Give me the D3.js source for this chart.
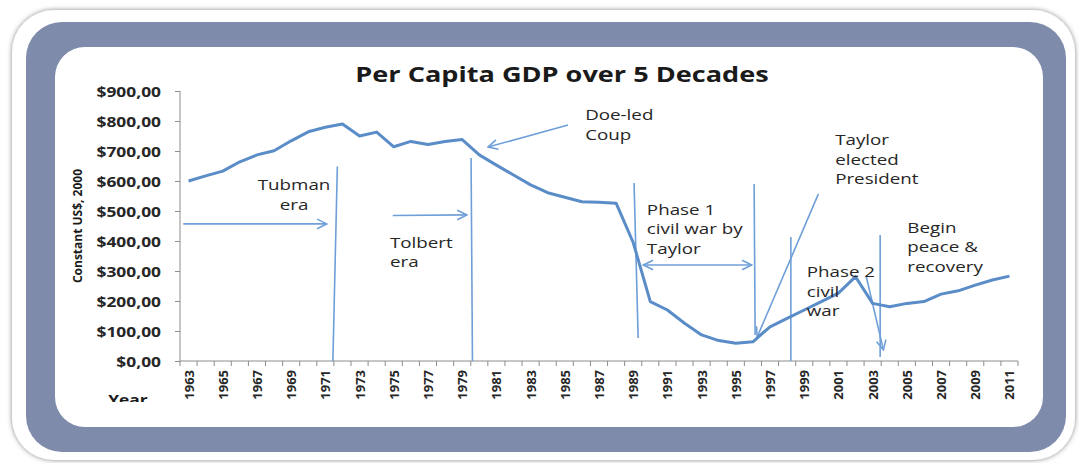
<!DOCTYPE html>
<html>
<head>
<meta charset="utf-8">
<script src="https://cdn.jsdelivr.net/npm/d3@7"></script>
<style>
  body { margin: 0; background: #fff; }
  svg text { font-family: "Open Sans", "Noto Sans", sans-serif; }
</style>
</head>
<body>
<div id="chart"></div>
<script>
// Per capita GDP, constant US$ 2000
const years = [1963, 1964, 1965, 1966, 1967, 1968, 1969, 1970, 1971, 1972,
	1973, 1974, 1975, 1976, 1977, 1978, 1979, 1980, 1981, 1982,
	1983, 1984, 1985, 1986, 1987, 1988, 1989, 1990, 1991, 1992,
	1993, 1994, 1995, 1996, 1997, 1998, 1999, 2000, 2001, 2002,
	2003, 2004, 2005, 2006, 2007, 2008, 2009, 2010, 2011];
const gdp = [600, 617, 633, 664, 687, 701, 734, 764, 779, 790,
	750, 763, 714, 732, 722, 732, 738, 687, 653, 620,
	587, 561, 546, 531, 529, 526, 395, 198, 170, 126,
	87, 68, 59, 64, 114, 142, 170, 198, 226, 281,
	192, 181, 192, 198, 223, 234, 253, 270, 283];
const yTicks = [0, 100, 200, 300, 400, 500, 600, 700, 800, 900];
const yTickLabels = ["$0,00", "$100,00", "$200,00", "$300,00", "$400,00",
	"$500,00", "$600,00", "$700,00", "$800,00", "$900,00"];
const xTickLabels = years.filter((d, i) => i % 2 === 0);

// era separators drawn by hand on the original (year / value ends)
const eraLines = [
	{x1: 1971.7, y1: 648, x2: 1971.44, y2: 0},
	{x1: 1979.52, y1: 677, x2: 1979.6, y2: 0},
	{x1: 1989.05, y1: 593, x2: 1989.29, y2: 77},
	{x1: 1996.07, y1: 590, x2: 1996.13, y2: 87},
	{x1: 1998.22, y1: 413, x2: 1998.22, y2: 0},
	{x1: 2003.44, y1: 420, x2: 2003.44, y2: 13}
];
const arrows = [
	{x1: 1962.69, y1: 457, x2: 1971.08, y2: 457, both: false},
	{x1: 1974.94, y1: 485, x2: 1979.27, y2: 487, both: false},
	{x1: 1985.19, y1: 787, x2: 1980.51, y2: 713, both: false},
	{x1: 1989.6, y1: 320, x2: 1995.93, y2: 320, both: true},
	{x1: 1999.83, y1: 557, x2: 1996.25, y2: 80, both: false},
	{x1: 2002.63, y1: 281, x2: 2003.63, y2: 37, both: false}
];
const notes = [
	{x: 1969.17, y: 570, anchor: "middle", lines: ["Tubman", "era"]},
	{x: 1974.78, y: 377, anchor: "start", lines: ["Tolbert", "era"]},
	{x: 1986.19, y: 803, anchor: "start", lines: ["Doe-led", "Coup"]},
	{x: 1989.8, y: 487, anchor: "start", lines: ["Phase 1", "civil war by", "Taylor"]},
	{x: 2000.81, y: 720, anchor: "start", lines: ["Taylor", "elected", "President"]},
	{x: 1999.15, y: 280, anchor: "start", lines: ["Phase 2", "civil", "war"]},
	{x: 2005.03, y: 427, anchor: "start", lines: ["Begin", "peace &", "recovery"]}
];

const width = 1079, height = 463;
const STRETCH = 1.24; // the source picture is squashed wide

function stretchText(sel, k) {
	sel.each(function() {
		const w = this.getComputedTextLength();
		d3.select(this).attr('textLength', w * k).attr('lengthAdjust', 'spacingAndGlyphs');
	});
}

const svg = d3.select('#chart').append('svg')
	.attr('width', width)
	.attr('height', height);

const defs = svg.append('defs');
defs.append('filter').attr('id', 'shadow')
	.attr('x', '-5%').attr('y', '-5%').attr('width', '110%').attr('height', '110%')
	.append('feDropShadow')
		.attr('dx', 0).attr('dy', 0)
		.attr('stdDeviation', 2.5)
		.attr('flood-color', '#666')
		.attr('flood-opacity', 0.8);
defs.append('clipPath').attr('id', 'chartClip')
	.append('rect')
		.attr('x', 55).attr('y', 47)
		.attr('width', 988).attr('height', 355);
defs.append('marker')
	.attr('id', 'arrowHead')
	.attr('viewBox', '0 0 10 10')
	.attr('refX', 9).attr('refY', 5)
	.attr('markerWidth', 7.5).attr('markerHeight', 7.5)
	.attr('orient', 'auto-start-reverse')
	.append('path')
		.attr('d', 'M1,1 L9,5 L1,9')
		.style('fill', 'none')
		.style('stroke', '#6f9fd8')
		.style('stroke-width', 1.3);

// frame: white mat, blue-grey band, white card
svg.append('rect')
	.attr('x', 12).attr('y', 10).attr('width', 1063).attr('height', 450)
	.attr('rx', 42)
	.style('fill', '#fff')
	.attr('filter', 'url(#shadow)');
svg.append('rect')
	.attr('x', 26).attr('y', 22).attr('width', 1040).attr('height', 430)
	.attr('rx', 36)
	.style('fill', '#7f8bab');
svg.append('rect')
	.attr('x', 55).attr('y', 47).attr('width', 988).attr('height', 380)
	.attr('rx', 30)
	.style('fill', '#fff');

const chart = svg.append('g').attr('clip-path', 'url(#chartClip)');

// scales
const x = d3.scaleBand()
	.domain(years)
	.range([180, 1018]);
const bw = x.bandwidth();
const xYear = d3.scaleLinear()
	.domain([years[0], years[years.length - 1]])
	.range([x(years[0]) + bw / 2, x(years[years.length - 1]) + bw / 2]);
const y = d3.scaleLinear()
	.domain([0, 900])
	.range([361, 91]);

// title
chart.append('text')
	.attr('x', 562).attr('y', 82)
	.attr('text-anchor', 'middle')
	.style('font-size', '21px')
	.style('font-weight', 'bold')
	.style('fill', '#1a1a1a')
	.text('Per Capita GDP over 5 Decades')
	.call(stretchText, 1.29);

// y axis
const yAxis = chart.append('g')
	.attr('transform', `translate(${x.range()[0]},0)`)
	.call(d3.axisLeft(y)
		.tickValues(yTicks)
		.tickSize(5)
		.tickPadding(14)
		.tickFormat((d, i) => yTickLabels[i]));
yAxis.select('.domain').attr('stroke', '#8c8c8c').attr('d', `M0,${y(900)}V${y(0)}`);
yAxis.selectAll('.tick line').attr('stroke', '#8c8c8c');
yAxis.selectAll('.tick text')
	.attr('dy', '0.36em')
	.style('font-family', '"Open Sans", sans-serif')
	.style('font-size', '14px')
	.style('font-weight', 'bold')
	.style('fill', '#262626')
	.call(stretchText, STRETCH);

chart.append('text')
	.attr('transform', `translate(82,226) rotate(-90)`)
	.attr('text-anchor', 'middle')
	.style('font-size', '12px')
	.style('font-weight', 'bold')
	.style('fill', '#1a1a1a')
	.text('Constant US$, 2000');

// x axis
const xAxisG = chart.append('g')
	.attr('transform', `translate(0,${y(0)})`);
xAxisG.append('line')
	.attr('x1', x.range()[0]).attr('x2', x.range()[1])
	.attr('stroke', '#8c8c8c');
xAxisG.selectAll('line.tick')
	.data(years.concat(['end']))
	.enter()
	.append('line')
		.classed('tick', true)
		.attr('x1', (d, i) => x.range()[0] + i * bw)
		.attr('x2', (d, i) => x.range()[0] + i * bw)
		.attr('y1', 0).attr('y2', 5)
		.attr('stroke', '#8c8c8c');
xAxisG.selectAll('text')
	.data(xTickLabels)
	.enter()
	.append('text')
		.attr('transform', d => `translate(${x(d) + bw / 2 + 5},9) rotate(-90)`)
		.attr('text-anchor', 'end')
		.style('font-size', '13px')
		.style('font-weight', 'bold')
		.style('fill', '#262626')
		.text(d => d);

// axis title, cut off by the chart's bottom edge like in the source
chart.append('text')
	.attr('x', 128).attr('y', 405)
	.attr('text-anchor', 'middle')
	.style('font-size', '14px')
	.style('font-weight', 'bold')
	.style('fill', '#1a1a1a')
	.text('Year')
	.call(stretchText, STRETCH);

// hand-drawn era lines and arrows
chart.selectAll('line.era')
	.data(eraLines)
	.enter()
	.append('line')
		.classed('era', true)
		.attr('x1', d => xYear(d.x1)).attr('y1', d => y(d.y1))
		.attr('x2', d => xYear(d.x2)).attr('y2', d => y(d.y2))
		.style('stroke', '#6f9fd8')
		.style('stroke-width', 1.6);

chart.selectAll('line.arrow')
	.data(arrows)
	.enter()
	.append('line')
		.classed('arrow', true)
		.attr('x1', d => xYear(d.x1)).attr('y1', d => y(d.y1))
		.attr('x2', d => xYear(d.x2)).attr('y2', d => y(d.y2))
		.style('stroke', '#6f9fd8')
		.style('stroke-width', 1.6)
		.attr('marker-end', 'url(#arrowHead)')
		.attr('marker-start', d => d.both ? 'url(#arrowHead)' : null);

// the GDP line
const line = d3.line()
	.x((d, i) => x(years[i]) + bw / 2)
	.y(d => y(d));
chart.append('path')
	.datum(gdp)
	.attr('d', line)
	.style('fill', 'none')
	.style('stroke', '#5a8cc8')
	.style('stroke-width', 3)
	.style('stroke-linejoin', 'round');

// annotation text
notes.forEach(note => {
	note.lines.forEach((t, i) => {
		chart.append('text')
			.attr('x', xYear(note.x))
			.attr('y', y(note.y) + i * 19.5)
			.attr('text-anchor', note.anchor)
			.style('font-size', '14px')
			.style('fill', '#262626')
			.text(t)
			.call(stretchText, 1.34);
	});
});
</script>
</body>
</html>
